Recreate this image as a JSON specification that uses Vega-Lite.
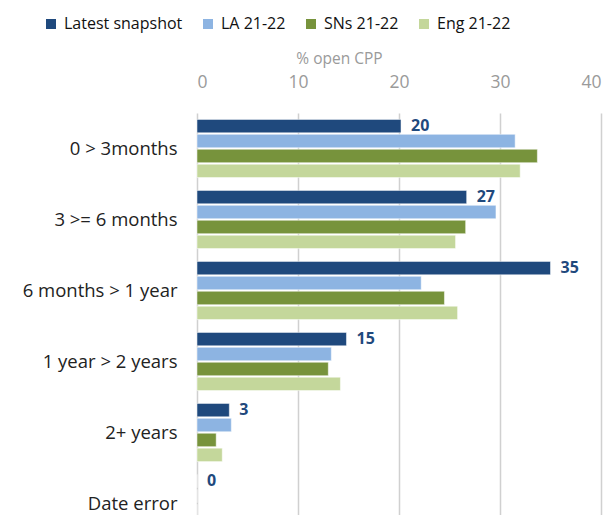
{
  "$schema": "https://vega.github.io/schema/vega-lite/v6.json",
  "width": 404,
  "height": 426,
  "padding": {"left": 197, "top": 113, "right": 13, "bottom": 0},
  "autosize": {"type": "none"},
  "config": {
    "view": {"stroke": null},
    "font": "Open Sans"
  },
  "data": {
    "values": [
      {"cat": "0 > 3months", "series": "Latest snapshot", "value": 20.2},
      {"cat": "0 > 3months", "series": "LA 21-22", "value": 31.5},
      {"cat": "0 > 3months", "series": "SNs 21-22", "value": 33.7},
      {"cat": "0 > 3months", "series": "Eng 21-22", "value": 32.0},
      {"cat": "3 >= 6 months", "series": "Latest snapshot", "value": 26.7},
      {"cat": "3 >= 6 months", "series": "LA 21-22", "value": 29.6},
      {"cat": "3 >= 6 months", "series": "SNs 21-22", "value": 26.6},
      {"cat": "3 >= 6 months", "series": "Eng 21-22", "value": 25.6},
      {"cat": "6 months > 1 year", "series": "Latest snapshot", "value": 35.0},
      {"cat": "6 months > 1 year", "series": "LA 21-22", "value": 22.2},
      {"cat": "6 months > 1 year", "series": "SNs 21-22", "value": 24.5},
      {"cat": "6 months > 1 year", "series": "Eng 21-22", "value": 25.8},
      {"cat": "1 year > 2 years", "series": "Latest snapshot", "value": 14.8},
      {"cat": "1 year > 2 years", "series": "LA 21-22", "value": 13.3},
      {"cat": "1 year > 2 years", "series": "SNs 21-22", "value": 13.0},
      {"cat": "1 year > 2 years", "series": "Eng 21-22", "value": 14.2},
      {"cat": "2+ years", "series": "Latest snapshot", "value": 3.2},
      {"cat": "2+ years", "series": "LA 21-22", "value": 3.4},
      {"cat": "2+ years", "series": "SNs 21-22", "value": 1.9},
      {"cat": "2+ years", "series": "Eng 21-22", "value": 2.5},
      {"cat": "Date error", "series": "Latest snapshot", "value": 0},
      {"cat": "Date error", "series": "LA 21-22", "value": 0},
      {"cat": "Date error", "series": "SNs 21-22", "value": 0},
      {"cat": "Date error", "series": "Eng 21-22", "value": 0}
    ]
  },
  "encoding": {
    "y": {
      "field": "cat",
      "type": "nominal",
      "sort": ["0 > 3months", "3 >= 6 months", "6 months > 1 year", "1 year > 2 years", "2+ years", "Date error"],
      "scale": {"paddingInner": 0.18, "paddingOuter": 0.09},
      "axis": {
        "title": null,
        "domain": false,
        "ticks": false,
        "labelPadding": 20,
        "labelFontSize": 18.5,
        "labelColor": "#222222",
        "labelFont": "Open Sans"
      }
    },
    "x": {
      "field": "value",
      "type": "quantitative",
      "scale": {"domain": [0, 40], "nice": false},
      "axis": {
        "orient": "top",
        "title": "% open CPP",
        "titleFontSize": 15.5,
        "titleFontWeight": "normal",
        "titleColor": "#9a9a9a",
        "titleFont": "Open Sans",
        "titleX": 142,
        "titleAnchor": null,
        "titlePadding": 7,
        "values": [0, 10, 20, 30, 40],
        "domain": false,
        "ticks": false,
        "labelPadding": 22,
        "labelFontSize": 17.5,
        "labelColor": "#9a9a9a",
        "labelFont": "Open Sans",
        "gridColor": "#d0d0d0",
        "gridWidth": 1.5
      }
    },
    "yOffset": {
      "field": "series",
      "type": "nominal",
      "scale": {"domain": ["Latest snapshot", "LA 21-22", "SNs 21-22", "Eng 21-22"], "paddingInner": 0.1, "paddingOuter": 0}
    }
  },
  "layer": [
    {
      "mark": {"type": "bar", "stroke": "white", "strokeWidth": 0.5},
      "encoding": {
        "color": {
          "field": "series",
          "type": "nominal",
          "scale": {
            "domain": ["Latest snapshot", "LA 21-22", "SNs 21-22", "Eng 21-22"],
            "range": ["#1F497D", "#8DB4E2", "#77933C", "#C4D79B"]
          },
          "legend": {
            "title": null,
            "orient": "none",
            "direction": "horizontal",
            "legendX": -154,
            "legendY": -97,
            "symbolType": "square",
            "symbolSize": 100,
            "symbolStrokeWidth": 0,
            "labelFontSize": 16,
            "labelColor": "#111111",
            "labelFont": "Open Sans",
            "columnPadding": 17,
            "labelOffset": 5
          }
        }
      }
    },
    {
      "transform": [{"filter": "datum.series == 'Latest snapshot'"}],
      "mark": {"type": "text", "align": "left", "dx": 10, "fontWeight": "bold", "fontSize": 16, "color": "#1F497D", "font": "Open Sans"},
      "encoding": {
        "text": {"field": "value", "type": "quantitative", "format": ".0f"}
      }
    }
  ]
}
